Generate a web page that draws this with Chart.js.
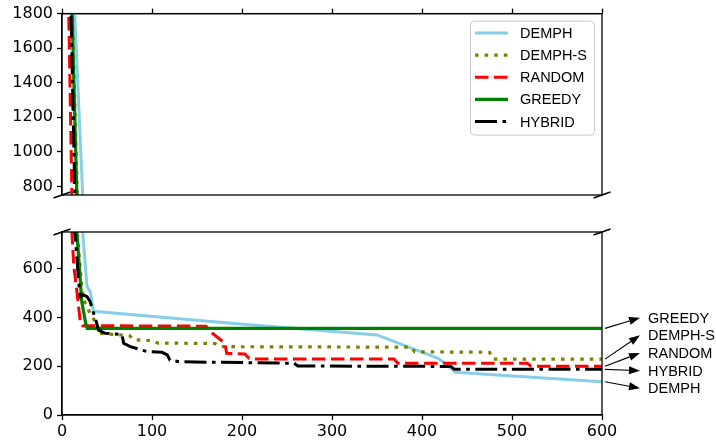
<!DOCTYPE html>
<html>
<head>
<meta charset="utf-8">
<script src="https://cdn.jsdelivr.net/npm/chart.js@4.4.1/dist/chart.umd.min.js"></script>
<style>
  html, body { margin: 0; padding: 0; background: #fff; }
  #wrap { position: relative; width: 716px; height: 443px; overflow: hidden; }
  .box { position: absolute; left: 0; width: 716px; }
  #topBox { top: 0; height: 215px; }
  #botBox { top: 215px; height: 228px; }
</style>
</head>
<body>
<div id="wrap">
  <div class="box" id="topBox"><canvas id="chartTop"></canvas></div>
  <div class="box" id="botBox"><canvas id="chartBottom"></canvas></div>
</div>
<script>
// values
const xTicks = [0, 100, 200, 300, 400, 500, 600];
const topTicks = [800, 1000, 1200, 1400, 1600, 1800];
const bottomTicks = [0, 200, 400, 600];

const demphX = [13, 23, 27.8, 31.4, 35, 198, 350, 394, 418, 428, 437, 600];
const demphY = [1930, 750, 526, 505, 425, 373, 328, 266, 232, 205, 175, 136];

const demphSX = [10.5, 17, 23, 31.5, 37, 39, 75, 80, 100, 106, 170, 176, 388, 392, 475, 479, 600];
const demphSY = [2000, 750, 480, 415, 382, 335, 325, 308, 305, 295, 293, 280, 278, 259, 257, 229, 229];

const randomX = [6.8, 11, 13, 16.6, 20.3, 23, 160, 167, 181, 183, 203, 208, 213, 369, 373, 517, 521, 600];
const randomY = [2000, 750, 615, 505, 382, 366, 364, 335, 294, 253, 250, 232, 229, 229, 212, 212, 200, 200];

const greedyX = [10.2, 16.5, 22, 26, 28, 600];
const greedyY = [2000, 750, 464, 382, 355, 355];

const hybridX = [9.2, 14.3, 16.6, 18.5, 20.3, 24, 27.8, 31.4, 33.3, 37, 40.7, 48, 66.7, 68.5, 76, 94.4, 111, 117, 120, 131, 258, 262, 432, 436, 600];
const hybridY = [2000, 750, 642, 546, 485, 492, 485, 464, 437, 396, 348, 335, 330, 294, 280, 260, 257, 246, 225, 218, 212, 201, 199, 187, 187];

const seriesNames = ['DEMPH', 'DEMPH-S', 'RANDOM', 'GREEDY', 'HYBRID'];
const seriesX = [demphX, demphSX, randomX, greedyX, hybridX];
const seriesY = [demphY, demphSY, randomY, greedyY, hybridY];

// order of the labels on the right side
const sideOrder = ['GREEDY', 'DEMPH-S', 'RANDOM', 'HYBRID', 'DEMPH'];

const styles = [
  { color: '#87ceeb', dash: [], width: 3 },
  { color: '#808000', dash: [3.6, 6], width: 3.2 },
  { color: '#ff0000', dash: [13.5, 5.5], width: 3 },
  { color: '#008000', dash: [], width: 3.2 },
  { color: '#000000', dash: [22, 5.5, 3.6, 5.5], width: 3 },
];

const tickFont = { family: 'DejaVu Sans', size: 16 };
const textFont = '14.5px "Liberation Sans", Arial, sans-serif';

function plainNumber(v) { return String(v); }

function makeDatasets() {
  return seriesNames.map(function (name, i) {
    return {
      label: name,
      data: seriesX[i].map(function (x, j) { return { x: x, y: seriesY[i][j] }; }),
      borderColor: styles[i].color,
      borderWidth: styles[i].width,
      borderDash: styles[i].dash,
      borderCapStyle: 'butt',
      pointRadius: 0,
      tension: 0,
      fill: false,
      order: 5 - i
    };
  });
}

function xAxis(position, showLabels) {
  return {
    type: 'linear',
    position: position,
    min: 0,
    max: 600,
    afterBuildTicks: function (s) { s.ticks = xTicks.map(function (v) { return { value: v }; }); },
    afterFit: function (s) { s.height = showLabels ? 28 : 13; },
    grid: { drawOnChartArea: false, drawTicks: true, tickLength: 5, color: '#000', tickWidth: 1.3 },
    border: { display: true, color: '#000', width: 1.3 },
    ticks: { display: showLabels, color: '#000', font: tickFont, padding: 2, maxRotation: 0, autoSkip: false, callback: plainNumber }
  };
}

function yAxis(min, max, tickList) {
  return {
    type: 'linear',
    min: min,
    max: max,
    afterBuildTicks: function (s) { s.ticks = tickList.map(function (v) { return { value: v }; }); },
    afterFit: function (s) { s.width = 62; },
    grid: { drawOnChartArea: false, tickLength: 5, color: '#000', tickWidth: 1.3 },
    border: { color: '#000', width: 1.3 },
    ticks: { color: '#000', font: tickFont, padding: 4, callback: plainNumber }
  };
}

function breakMark(ctx, cx, cy) {
  ctx.beginPath();
  ctx.moveTo(cx - 8.5, cy + 3);
  ctx.lineTo(cx + 8.5, cy - 3);
  ctx.stroke();
}

// box around the plot and the diagonal break marks
const framePlugin = {
  id: 'frame',
  afterDatasetsDraw: function (chart, args, opts) {
    const a = chart.chartArea;
    const ctx = chart.ctx;
    ctx.save();
    ctx.strokeStyle = '#000';
    ctx.lineWidth = 1.3;
    ctx.setLineDash([]);
    ctx.strokeRect(a.left, a.top, a.right - a.left, a.bottom - a.top);
    ctx.lineWidth = 1.6;
    const y = opts.breakAt === 'bottom' ? a.bottom : a.top;
    breakMark(ctx, a.left, y);
    breakMark(ctx, a.right, y);
    ctx.restore();
  }
};

const legendPlugin = {
  id: 'legendBox',
  afterDraw: function (chart) {
    const a = chart.chartArea;
    const ctx = chart.ctx;
    const w = 124, h = 114;
    const bx = a.right - 7.5 - w, by = a.top + 7.5;
    ctx.save();
    ctx.fillStyle = 'rgba(255,255,255,0.85)';
    ctx.strokeStyle = '#cccccc';
    ctx.lineWidth = 1;
    ctx.beginPath();
    ctx.roundRect(bx, by, w, h, 4);
    ctx.fill();
    ctx.stroke();
    ctx.font = textFont;
    ctx.textBaseline = 'middle';
    ctx.textAlign = 'left';
    seriesNames.forEach(function (name, i) {
      const ry = by + 12 + i * 22.1;
      ctx.strokeStyle = styles[i].color;
      ctx.lineWidth = styles[i].width;
      ctx.lineCap = 'butt';
      ctx.setLineDash(styles[i].dash);
      ctx.beginPath();
      ctx.moveTo(bx + 4.5, ry);
      ctx.lineTo(bx + 37.5, ry);
      ctx.stroke();
      ctx.setLineDash([]);
      ctx.fillStyle = '#000';
      ctx.fillText(name, bx + 49.5, ry + 1);
    });
    ctx.restore();
  }
};

function drawArrow(ctx, x1, y1, x2, y2) {
  const ang = Math.atan2(y2 - y1, x2 - x1);
  const len = 11, half = 4;
  const bx = x2 - len * Math.cos(ang), by = y2 - len * Math.sin(ang);
  ctx.beginPath();
  ctx.moveTo(x1, y1);
  ctx.lineTo(bx, by);
  ctx.stroke();
  ctx.beginPath();
  ctx.moveTo(x2, y2);
  ctx.lineTo(bx + half * Math.sin(ang), by - half * Math.cos(ang));
  ctx.lineTo(bx - half * Math.sin(ang), by + half * Math.cos(ang));
  ctx.closePath();
  ctx.fill();
}

// labels with arrows at the right end of the lines
const sideLabelPlugin = {
  id: 'sideLabels',
  afterDraw: function (chart) {
    const a = chart.chartArea;
    const ctx = chart.ctx;
    const xs = chart.scales.x, ys = chart.scales.y;
    ctx.save();
    ctx.font = textFont;
    ctx.textBaseline = 'middle';
    ctx.textAlign = 'left';
    ctx.fillStyle = '#000';
    ctx.strokeStyle = '#000';
    ctx.lineWidth = 1.1;
    sideOrder.forEach(function (name, i) {
      const k = seriesNames.indexOf(name);
      const lastX = seriesX[k][seriesX[k].length - 1];
      const lastY = seriesY[k][seriesY[k].length - 1];
      const sx = xs.getPixelForValue(lastX) + 3;
      const sy = ys.getPixelForValue(lastY);
      const ly = a.top + 85.7 + i * 17.65;
      drawArrow(ctx, sx, sy, a.right + 38, ly);
      ctx.fillText(name, a.right + 46, ly + 1);
    });
    ctx.restore();
  }
};

const ctxTop = document.getElementById('chartTop');
const chartTop = new Chart(ctxTop, {
  type: 'line',
  data: { datasets: makeDatasets() },
  options: {
    responsive: true,
    maintainAspectRatio: false,
    animation: false,
    layout: { padding: { left: 0, right: 114, top: 0, bottom: 20 } },
    scales: {
      x: xAxis('top', false),
      y: yAxis(750, 1800, topTicks)
    },
    plugins: {
      legend: { display: false },
      tooltip: { enabled: false },
      frame: { breakAt: 'bottom' }
    }
  },
  plugins: [framePlugin, legendPlugin]
});

const ctxBottom = document.getElementById('chartBottom');
const chartBottom = new Chart(ctxBottom, {
  type: 'line',
  data: { datasets: makeDatasets() },
  options: {
    responsive: true,
    maintainAspectRatio: false,
    animation: false,
    layout: { padding: { left: 0, right: 114, top: 17, bottom: 0 } },
    scales: {
      x: xAxis('bottom', true),
      y: yAxis(0, 750, bottomTicks)
    },
    plugins: {
      legend: { display: false },
      tooltip: { enabled: false },
      frame: { breakAt: 'top' }
    }
  },
  plugins: [framePlugin, sideLabelPlugin]
});
</script>
</body>
</html>
